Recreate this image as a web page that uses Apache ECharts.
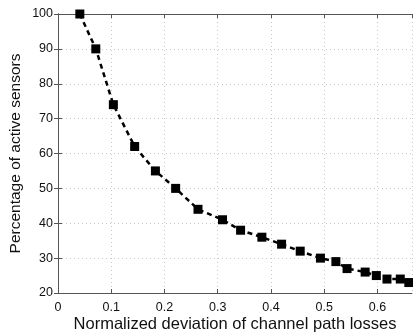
<!DOCTYPE html>
<html><head><meta charset="utf-8">
<script src="https://cdn.jsdelivr.net/npm/echarts@6/dist/echarts.min.js"></script>
<style>html,body{margin:0;padding:0;background:#fff}#c{width:413px;height:332px}</style>
</head><body><div id="c"></div>
<script>
var xValues = [0.041, 0.071, 0.104, 0.144, 0.183, 0.221, 0.263, 0.309, 0.343, 0.383, 0.42, 0.455, 0.493, 0.522, 0.543, 0.577, 0.598, 0.618, 0.643, 0.659];
var yValues = [100, 90, 74, 62, 55, 50, 44, 41, 38, 36, 34, 32, 30, 29, 27, 26, 25, 24, 24, 23];
var xTitle = 'Normalized deviation of channel path losses';
var yTitle = 'Percentage of active sensors';

var data = xValues.map(function (x, i) { return [x, yValues[i]]; });
var font = 'Liberation Sans, Arial, sans-serif';
var axisLine = {show: true, lineStyle: {color: '#555', width: 1}};
var tick = {show: true, inside: true, length: 4, lineStyle: {color: '#555'}};
var grid = {show: true, lineStyle: {color: '#c8c8c8', type: [1, 3], width: 1}};
var chart = echarts.init(document.getElementById('c'));
chart.setOption({
  animation: false,
  grid: {left: 58, right: 1, top: 14, bottom: 39, containLabel: false, outerBoundsMode: 'none'},
  xAxis: [{
    type: 'value', min: 0, max: 0.665, interval: 0.1,
    axisLine: axisLine, axisTick: tick, splitLine: grid,
    axisLabel: {color: '#111', fontSize: 12.5, fontFamily: font, margin: 8,
      showMaxLabel: false,
      formatter: function (v) { return v === 0 ? '0' : v.toFixed(1); }},
    name: xTitle, nameLocation: 'middle', nameGap: 21, nameMoveOverlap: false,
    nameTextStyle: {color: '#111', fontSize: 16.5, fontFamily: font, verticalAlign: 'top', lineHeight: 20}
  }, {
    type: 'value', position: 'top', min: 0, max: 0.665, interval: 0.1,
    axisLine: axisLine, axisTick: tick, axisLabel: {show: false}, splitLine: {show: false}
  }],
  yAxis: [{
    type: 'value', min: 20, max: 100, interval: 10,
    axisLine: axisLine, axisTick: tick, splitLine: grid,
    axisLabel: {color: '#111', fontSize: 12.5, fontFamily: font, margin: 5},
    name: yTitle, nameLocation: 'middle', nameGap: 34, nameMoveOverlap: false,
    nameTextStyle: {color: '#111', fontSize: 15.5, fontFamily: font}
  }, {
    type: 'value', position: 'right', min: 20, max: 100, interval: 10,
    axisLine: axisLine, axisTick: tick, axisLabel: {show: false}, splitLine: {show: false}
  }],
  series: [{
    type: 'line', data: data, xAxisIndex: 0, yAxisIndex: 0,
    symbol: 'rect', symbolSize: 9, clip: false,
    lineStyle: {color: '#000', width: 2.5, type: [5, 4]},
    itemStyle: {color: '#000'}
  }]
});
</script></body></html>
